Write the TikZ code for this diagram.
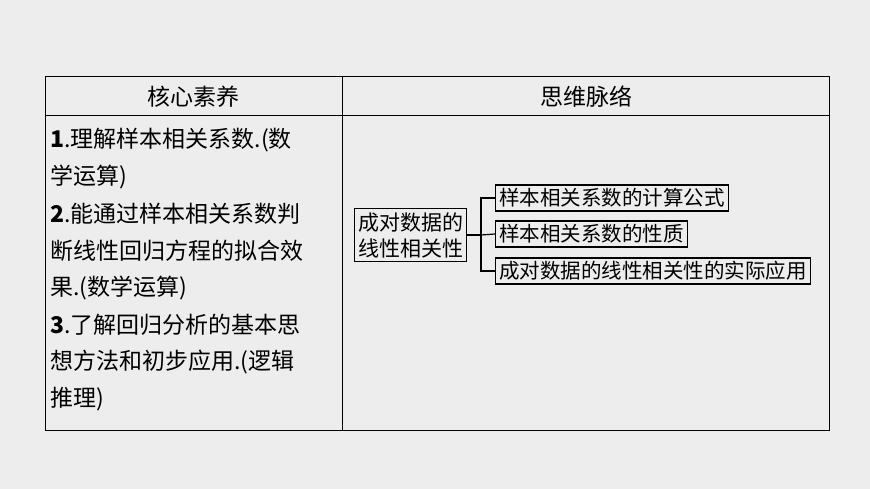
\documentclass[tikz,border=0pt]{standalone}
\usepackage{fontspec}
\newfontfamily\cjk{Noto Sans CJK SC}
\usetikzlibrary{positioning}
\tikzset{
	branch box/.style={draw, very thick, inner xsep=3.5pt, inner ysep=0pt, font=\cjk\fontsize{20.5}{24}\selectfont, anchor=west, minimum height=26pt},
	line text/.style={anchor=west, inner sep=0pt, font=\cjk\fontsize{23}{24}\selectfont},
}
\begin{document}
\begin{tikzpicture}[x=1pt, y=-1pt, thick]
\fill[gray!14] (0,0) rectangle (870,489);
\useasboundingbox (0,0) rectangle (870,489);

% table
\draw (45,76) rectangle (829,430);
\draw (342,76) -- (342,430);
\draw (45,115) -- (829,115);
\node(hl)[font=\cjk\fontsize{23}{24}\selectfont] at (193,97) {核心素养};
\node(hr)[font=\cjk\fontsize{23}{24}\selectfont] at (586,97) {思维脉络};

\begin{scope}[every node/.style={line text}]
\node(l1) at (50,140) {\textbf{1}.理解样本相关系数.(数};
\node(l2) at (50,177) {学运算)};
\node(l3) at (50,214) {\textbf{2}.能通过样本相关系数判};
\node(l4) at (50,251) {断线性回归方程的拟合效};
\node(l5) at (50,288) {果.(数学运算)};
\node(l6) at (50,325) {\textbf{3}.了解回归分析的基本思};
\node(l7) at (50,362) {想方法和初步应用.(逻辑};
\node(l8) at (50,399) {推理)};
\end{scope}

% mind map
\node(root)[branch box, font=\cjk\fontsize{21}{26}\selectfont, minimum height=53pt, align=center] at (354,235) {成对数据的\\线性相关性};
\coordinate(j) at (481,235);
\node(b1)[branch box] at (495,198) {样本相关系数的计算公式};
\node(b2)[branch box] at (495,234) {样本相关系数的性质};
\node(b3)[branch box] at (495,271) {成对数据的线性相关性的实际应用};

\draw[very thick] (root.east) -- (j);
\draw[very thick] (b1.west) -| (j) |- (b3.west);
\draw[very thick] (j) -- (b2.west);
\end{tikzpicture}
\end{document}
